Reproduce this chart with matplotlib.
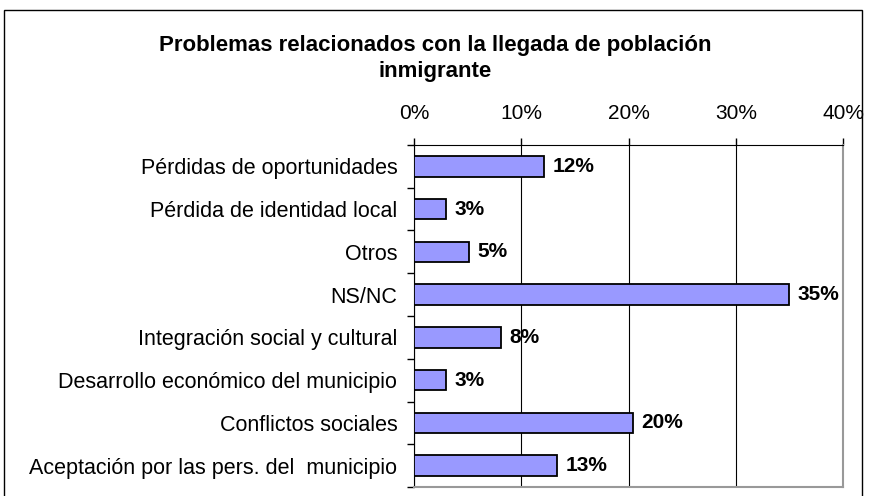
import matplotlib.pyplot as plt
from matplotlib.ticker import FuncFormatter
from matplotlib.patches import Rectangle

categories = ['Pérdidas de oportunidades', 'Pérdida de identidad local', 'Otros', 'NS/NC',
              'Integración social y cultural', 'Desarrollo económico del municipio',
              'Conflictos sociales', 'Aceptación por las pers. del  municipio']
values = [12.1, 3.0, 5.1, 35.0, 8.1, 3.0, 20.4, 13.3]
labels = ['12%', '3%', '5%', '35%', '8%', '3%', '20%', '13%']

plt.rcParams['font.family'] = ['Liberation Sans', 'DejaVu Sans']

fig = plt.figure(figsize=(8.71, 4.96), dpi=100)
ax = fig.add_axes([414 / 871, 1 - 487 / 496, (843 - 414) / 871, (487 - 145) / 496])

# outer frame of the chart
fig.patches.append(Rectangle((4 / 871, -0.01), 858 / 871, 1 - 10 / 496 + 0.01,
                             transform=fig.transFigure, fill=False, edgecolor='black', lw=1))

ypos = list(range(len(categories)))
ax.barh(ypos, values, height=0.48, color='#9999FF', edgecolor='black', lw=1.3, zorder=3)
for y, v, t in zip(ypos, values, labels):
    ax.text(v + 0.8, y, t, va='center', ha='left', fontsize=15, fontweight='bold', zorder=4)

ax.set_xlim(0, 40)
ax.set_ylim(len(categories) - 0.5, -0.5)
ax.set_xticks([0, 10, 20, 30, 40])
ax.xaxis.set_major_formatter(FuncFormatter(lambda x, p: '%d%%' % x))
ax.xaxis.tick_top()
ax.tick_params(axis='x', length=5, width=1, labelsize=15, pad=11)
ax.set_yticks([i + 0.5 for i in range(-1, len(categories))], minor=False)
ax.set_yticklabels([])
ax.set_yticks(ypos, minor=True)
ax.set_yticklabels(categories, minor=True, fontsize=15.5)
ax.tick_params(axis='y', which='major', length=5, width=1)
ax.tick_params(axis='y', which='minor', length=0, pad=12)
ax.grid(axis='x', color='black', lw=0.8, zorder=0)

ax.spines['left'].set_color('black')
ax.spines['top'].set_color('black')
ax.spines['right'].set_color('#999999')
ax.spines['bottom'].set_color('#999999')
ax.spines['right'].set_linewidth(1.5)
ax.spines['bottom'].set_linewidth(1.5)

fig.text(0.5, 1 - 45 / 496, 'Problemas relacionados con la llegada de población', ha='center',
         va='center', fontsize=16, fontweight='bold')
fig.text(0.5, 1 - 71 / 496, 'inmigrante', ha='center', va='center', fontsize=16, fontweight='bold')

fig.savefig('out.png', dpi=100)
